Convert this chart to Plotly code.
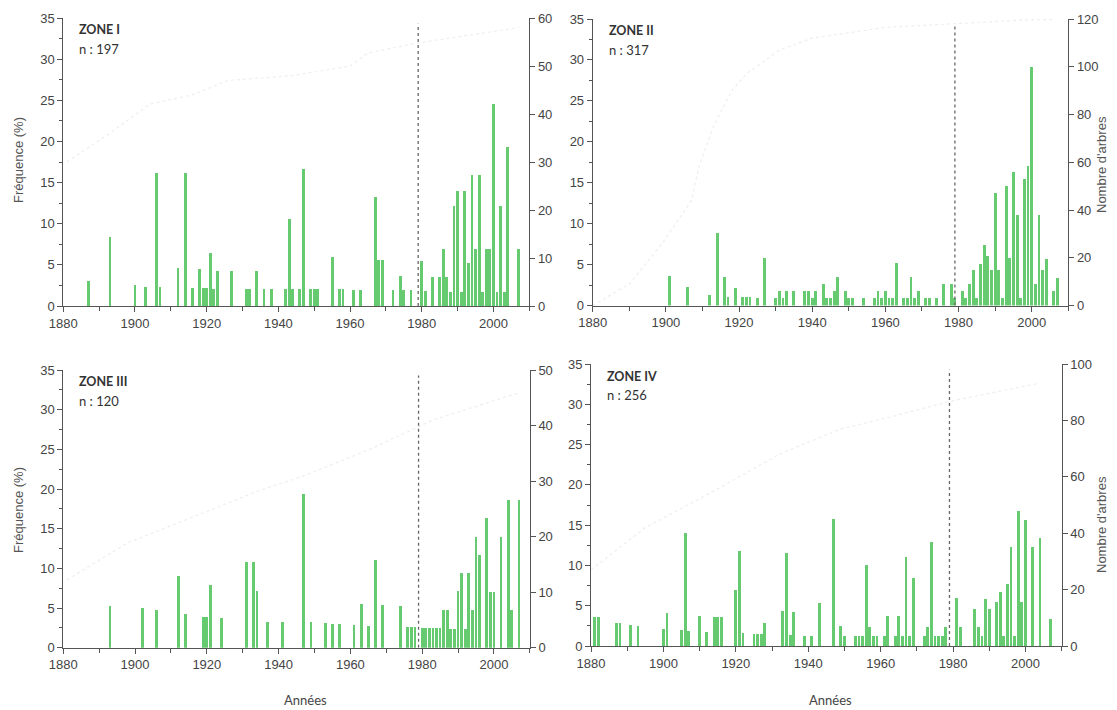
import plotly.graph_objects as go

# ---------------- data ----------------
years_z1 = [1887,1893,1900,1903,1906,1907,1912,1914,1916,1918,
            1919,1920,1921,1922,1923,1927,1931,1932,1934,1936,
            1938,1942,1943,1944,1946,1947,1949,1950,1951,1955,
            1957,1958,1961,1963,1967,1968,1969,1972,1974,1975,
            1977,1980,1981,1983,1985,1986,1987,1988,1989,1990,
            1991,1992,1993,1994,1995,1996,1997,1998,1999,2000,
            2001,2002,2003,2004,2007]
freq_z1 = [3.0,8.4,2.5,2.3,16.2,2.3,4.6,16.2,2.2,4.5,
           2.2,2.2,6.4,2.1,4.2,4.2,2.1,2.1,4.2,2.1,
           2.1,2.1,10.6,2.1,2.1,16.6,2.1,2.1,2.1,6.0,
           2.1,2.1,2.0,2.0,13.2,5.6,5.6,2.0,3.7,1.9,
           1.9,5.5,1.8,3.5,3.5,6.9,3.5,1.7,12.2,14.0,
           1.7,14.0,5.2,15.9,6.9,15.9,1.7,6.9,6.9,24.5,
           1.7,12.2,1.7,19.3,6.9]

years_z2 = [1901,1906,1912,1914,1916,1917,1919,1921,1922,1923,
            1925,1927,1930,1931,1932,1933,1935,1938,1939,1940,
            1941,1943,1944,1945,1946,1947,1949,1950,1951,1954,
            1957,1958,1959,1960,1961,1962,1963,1965,1966,1967,
            1968,1969,1971,1972,1974,1976,1978,1979,1981,1982,
            1983,1984,1985,1986,1987,1988,1989,1990,1991,1992,
            1993,1994,1995,1996,1997,1998,1999,2000,2001,2002,
            2003,2004,2006,2007]
freq_z2 = [3.6,2.3,1.3,8.8,3.5,1.1,2.1,1.0,1.0,1.0,
           0.9,5.8,0.9,1.8,0.9,1.8,1.8,1.8,1.8,0.9,
           1.8,2.6,0.9,0.9,1.8,3.5,1.8,0.9,0.9,0.9,
           0.9,1.8,0.9,1.8,0.9,0.9,5.2,0.9,0.9,3.5,
           0.9,1.8,0.9,0.9,0.9,2.6,2.6,0.9,1.8,0.9,
           2.6,4.3,0.9,5.1,7.4,6.0,4.3,13.7,4.3,0.9,
           14.6,5.8,16.3,11.1,0.9,15.4,17.1,29.1,2.6,11.1,
           4.3,5.7,1.8,3.4]

years_z3 = [1893,1902,1906,1912,1914,1919,1920,1921,1924,1931,
            1933,1934,1937,1941,1947,1949,1953,1955,1957,1961,
            1963,1965,1967,1969,1974,1976,1977,1978,1980,1981,
            1982,1983,1984,1985,1986,1987,1988,1989,1990,1991,
            1992,1993,1994,1995,1996,1998,1999,2000,2002,2004,
            2005,2007]
freq_z3 = [5.3,5.0,4.8,9.1,4.3,3.9,3.9,7.9,3.7,10.8,
           10.8,7.1,3.3,3.3,19.4,3.2,3.1,3.0,3.0,2.9,
           5.5,2.7,11.1,5.4,5.3,2.6,2.6,2.6,2.5,2.5,
           2.5,2.5,2.5,2.5,4.8,4.8,2.4,2.4,7.1,9.4,
           2.4,9.4,4.7,14.0,11.7,16.3,7.0,7.0,14.0,18.6,
           4.7,18.6]

years_z4 = [1881,1882,1887,1888,1891,1893,1900,1901,1905,1906,
            1907,1910,1912,1914,1915,1916,1920,1921,1922,1925,
            1926,1927,1928,1933,1934,1935,1936,1939,1941,1943,
            1947,1949,1950,1953,1954,1955,1956,1957,1958,1959,
            1961,1962,1964,1965,1966,1967,1968,1969,1972,1973,
            1974,1975,1976,1977,1978,1981,1982,1986,1987,1988,
            1989,1990,1992,1993,1994,1995,1996,1997,1998,1999,
            2000,2002,2004,2007]
freq_z4 = [3.6,3.6,2.9,2.9,2.6,2.5,2.1,4.1,2.0,14.0,
           1.9,3.7,1.8,3.6,3.6,3.6,6.9,11.8,1.6,1.5,
           1.5,1.5,2.9,4.3,11.6,1.4,4.2,1.3,1.3,5.3,
           15.8,2.5,1.2,1.2,1.2,1.2,10.0,2.4,1.2,1.2,
           1.2,3.7,1.2,3.7,1.2,11.0,1.2,8.4,1.2,2.4,
           12.9,1.2,1.2,1.2,2.4,5.9,2.4,4.6,2.3,1.2,
           5.8,4.6,5.5,6.7,1.2,7.7,12.3,1.2,16.7,5.5,
           15.6,12.3,13.4,3.3]

# faint cumulative curves (right axis, number of trees)
cum_years_z1 = [1881,1893,1904,1916,1926,1935,1944,1960,1965,1979,2007]
cum_z1 = [30,36,42,44,47,47.5,48,50,52.7,54.8,58]
cum_years_z2 = [1880,1890,1899,1907,1909,1913,1918,1922,1931,1940,1960,1997,2006]
cum_z2 = [0,9,26,44,58,75,90,97,107,112,116.5,119.5,119.8]
cum_years_z3 = [1881,1898,1916,1935,1946,1965,1983,2007]
cum_z3 = [12.2,18.9,23.5,28.4,30.7,35.6,41,45.9]
cum_years_z4 = [1880,1895,1914,1932,1949,1962,1980,2003]
cum_z4 = [27,42,55,68,77,81,87,93]

zone_names = ["ZONE I", "ZONE II", "ZONE III", "ZONE IV"]
zone_n = ["n : 197", "n : 317", "n : 120", "n : 256"]
right_max = [60, 120, 50, 100]
right_dtick = [10, 20, 10, 20]
cut_year = 1979

# ---------------- layout geometry ----------------
W, H = 1117, 710
def px(x): return x / W
def py(y): return 1 - y / H

panels = [
    dict(x=(63.3, 529.3), y=(306, 18)),
    dict(x=(592.7, 1068.3), y=(305.5, 19)),
    dict(x=(63.3, 529.8), y=(647.7, 370)),
    dict(x=(591, 1061.7), y=(646, 364)),
]

bar_years = [years_z1, years_z2, years_z3, years_z4]
bar_vals = [freq_z1, freq_z2, freq_z3, freq_z4]
cum_years = [cum_years_z1, cum_years_z2, cum_years_z3, cum_years_z4]
cum_vals = [cum_z1, cum_z2, cum_z3, cum_z4]

GREEN = "#66cb70"
AX = "#555555"
TICKFONT = dict(family="Liberation Sans, Arial, sans-serif", size=13, color="#444444")

fig = go.Figure()
layout = dict(
    width=W, height=H, margin=dict(l=0, r=0, t=0, b=0, pad=0, autoexpand=False),
    paper_bgcolor="white", plot_bgcolor="white", showlegend=False,
    bargap=0, shapes=[], annotations=[], hovermode=False,
)

for i in range(4):
    xa = "x" if i == 0 else f"x{i+1}"
    yl = "y" if i == 0 else f"y{2*i+1}"
    yr = f"y{2*i+2}"
    xkey = "xaxis" if i == 0 else f"xaxis{i+1}"
    ylkey = "yaxis" if i == 0 else f"yaxis{2*i+1}"
    yrkey = f"yaxis{2*i+2}"
    p = panels[i]
    xd = [px(p["x"][0]), px(p["x"][1])]
    yd = [py(p["y"][0]), py(p["y"][1])]

    fig.add_trace(go.Scatter(
        x=cum_years[i], y=cum_vals[i], xaxis=xa, yaxis=yr, mode="lines",
        line=dict(color="rgba(200,200,200,0.30)", width=1.2, dash="dot"),
        hoverinfo="skip"))
    fig.add_trace(go.Bar(
        x=bar_years[i], y=bar_vals[i], xaxis=xa, yaxis=yl, width=0.78,
        marker=dict(color=GREEN, line=dict(width=0))))

    layout[xkey] = dict(
        domain=xd, anchor=yl, range=[1880, 2010], tick0=1880, dtick=20,
        ticks="outside", ticklen=5, tickcolor=AX, showline=True, linecolor=AX,
        linewidth=1, showgrid=False, zeroline=False, tickfont=TICKFONT,
        automargin=False, fixedrange=True,
        minor=dict(dtick=10, tick0=1880, ticks="outside", ticklen=4, tickcolor=AX),
    )
    layout[ylkey] = dict(
        domain=yd, anchor=xa, range=[0, 35], dtick=5, ticks="outside",
        ticklen=5, tickcolor=AX, showline=True, linecolor=AX, linewidth=1,
        showgrid=False, zeroline=False, tickfont=TICKFONT, automargin=False,
        fixedrange=True,
        minor=dict(dtick=2.5, ticks="outside", ticklen=3, tickcolor=AX),
    )
    layout[yrkey] = dict(
        overlaying=yl, anchor=xa, side="right", range=[0, right_max[i]],
        dtick=right_dtick[i], ticks="outside", ticklen=5, tickcolor=AX,
        showline=True, linecolor=AX, linewidth=1, showgrid=False,
        zeroline=False, tickfont=TICKFONT, automargin=False, fixedrange=True,
    )

    layout["shapes"].append(dict(
        type="line", xref=xa, yref=yl, x0=cut_year, x1=cut_year, y0=0, y1=34.3,
        line=dict(color="#666666", width=1.3, dash="dot")))

    lx = p["x"][0] + 14
    ty = p["y"][1]
    layout["annotations"].append(dict(
        text="<b>" + zone_names[i] + "</b>", xref="paper", yref="paper",
        x=px(lx), y=py(ty + 12), xanchor="left", yanchor="middle",
        showarrow=False, font=dict(family="Lato, sans-serif", size=12.5, color="#333333")))
    layout["annotations"].append(dict(
        text=zone_n[i], xref="paper", yref="paper",
        x=px(lx), y=py(ty + 31), xanchor="left", yanchor="middle",
        showarrow=False, font=dict(family="Lato, sans-serif", size=13, color="#333333")))

TITLEFONT = dict(family="Liberation Sans, Arial, sans-serif", size=13, color="#555555")
for (x, y, t) in [(18, 160, "Fréquence (%)"), (18, 510, "Fréquence (%)"),
                  (1101, 165, "Nombre d'arbres"), (1101, 525, "Nombre d'arbres")]:
    layout["annotations"].append(dict(
        text=t, xref="paper", yref="paper", x=px(x), y=py(y), textangle=-90,
        xanchor="center", yanchor="middle", showarrow=False, font=TITLEFONT))
for x in (305, 830):
    layout["annotations"].append(dict(
        text="Années", xref="paper", yref="paper", x=px(x), y=py(700),
        xanchor="center", yanchor="middle", showarrow=False,
        font=dict(family="Lato, sans-serif", size=13, color="#444444")))

fig.update_layout(**layout)
fig.write_html(
    "out.html",
    config={"displayModeBar": False, "staticPlot": True},
    post_script="document.body.style.margin='0';document.body.style.overflow='hidden';",
)
